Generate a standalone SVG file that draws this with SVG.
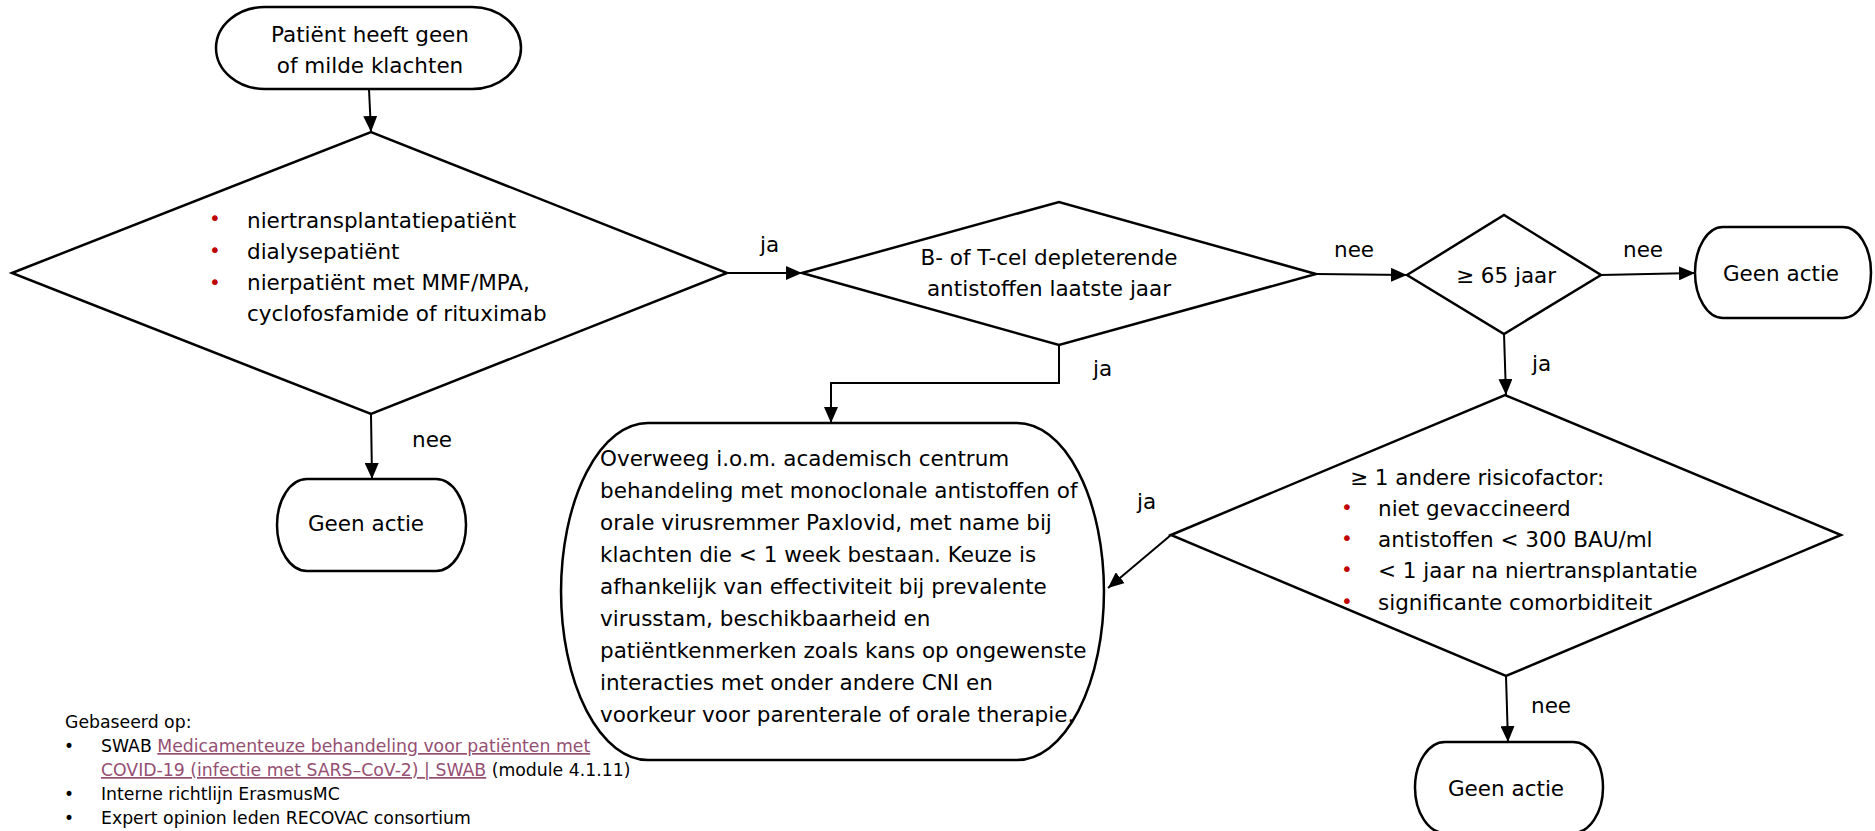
<svg xmlns="http://www.w3.org/2000/svg" width="1875" height="831" viewBox="0 0 1875 831">
<defs>
<marker id="ah" markerUnits="userSpaceOnUse" markerWidth="16" markerHeight="14" refX="16" refY="7" orient="auto">
<path d="M0,0 L16,7 L0,14 z" fill="#000"/>
</marker>
<style>
.shape{fill:#fff;stroke:#000;stroke-width:2.5;stroke-linejoin:miter}
.conn{fill:none;stroke:#000;stroke-width:2;marker-end:url(#ah)}
text{font-family:"DejaVu Sans","Liberation Sans",sans-serif;fill:#000}
.t{font-size:21.5px}
.c{text-anchor:middle}
.b{font-size:20px;fill:#C00000}
.f{font-size:17.3px}
.fb{font-size:17px}
.lnk{fill:#954F72;text-decoration:underline}
</style>
</defs>
<rect x="0" y="0" width="1875" height="831" fill="#fff"/>

<g id="connectors">
<path class="conn" d="M369,89 L371,132"/>
<path class="conn" d="M727,273 L802,273"/>
<path class="conn" d="M1059,345 L1059,383 L831,383 L831,423"/>
<path class="conn" d="M1316,274 L1407,275"/>
<path class="conn" d="M1601,275 L1695,273"/>
<path class="conn" d="M1504,334 L1506,395"/>
<path class="conn" d="M1171,535 L1108,588"/>
<path class="conn" d="M1506,676 L1508,742"/>
<path class="conn" d="M371,414 L372,479"/>
<text class="t" x="760" y="252">ja</text>
<text class="t" x="1093" y="376">ja</text>
<text class="t" x="1334" y="257">nee</text>
<text class="t" x="1623" y="257">nee</text>
<text class="t" x="1532" y="371">ja</text>
<text class="t" x="1137" y="509">ja</text>
<text class="t" x="1531" y="713">nee</text>
<text class="t" x="412" y="447">nee</text>
</g>

<g id="start">
<path class="shape" d="M265,7 H472 A49 41 0 0 1 472,89 H265 A49 41 0 0 1 265,7 Z"/>
<text class="t c" x="370" y="42">Patiënt heeft geen</text>
<text class="t c" x="370" y="73">of milde klachten</text>
</g>

<g id="d1">
<path class="shape" d="M12,273 L371,132 L727,273 L371,414 Z"/>
<text class="b" x="209" y="225">•</text>
<text class="b" x="209" y="257">•</text>
<text class="b" x="209" y="289">•</text>
<text class="t" x="247" y="228">niertransplantatiepatiënt</text>
<text class="t" x="247" y="259">dialysepatiënt</text>
<text class="t" x="247" y="290">nierpatiënt met MMF/MPA,</text>
<text class="t" x="247" y="321">cyclofosfamide of rituximab</text>
</g>

<g id="geen1">
<path class="shape" d="M307,479 H436 A30 46 0 0 1 436,571 H307 A30 46 0 0 1 307,479 Z"/>
<text class="t c" x="366" y="531">Geen actie</text>
</g>

<g id="d2">
<path class="shape" d="M802,273 L1059,202 L1316,274 L1059,345 Z"/>
<text class="t c" x="1049" y="265">B- of T-cel depleterende</text>
<text class="t c" x="1049" y="296">antistoffen laatste jaar</text>
</g>

<g id="d3">
<path class="shape" d="M1407,275 L1504,215 L1601,275 L1504,334 Z"/>
<text class="t c" x="1506" y="283">≥ 65 jaar</text>
</g>

<g id="geen2">
<path class="shape" d="M1723,227 H1843 A28 45.5 0 0 1 1843,318 H1723 A28 45.5 0 0 1 1723,227 Z"/>
<text class="t c" x="1781" y="281">Geen actie</text>
</g>

<g id="d4">
<path class="shape" d="M1171,535 L1505,395 L1841,535 L1506,676 Z"/>
<text class="t" x="1350" y="485">≥ 1 andere risicofactor:</text>
<text class="b" x="1341" y="514">•</text>
<text class="b" x="1341" y="545">•</text>
<text class="b" x="1341" y="576">•</text>
<text class="b" x="1341" y="608">•</text>
<text class="t" x="1378" y="516">niet gevaccineerd</text>
<text class="t" x="1378" y="547">antistoffen &lt; 300 BAU/ml</text>
<text class="t" x="1378" y="578">&lt; 1 jaar na niertransplantatie</text>
<text class="t" x="1378" y="610">significante comorbiditeit</text>
</g>

<g id="advies">
<path class="shape" d="M648,423 H1017 A87 168.5 0 0 1 1017,760 H648 A87 168.5 0 0 1 648,423 Z"/>
<text class="t" x="600" y="466">Overweeg i.o.m. academisch centrum</text>
<text class="t" x="600" y="498">behandeling met monoclonale antistoffen of</text>
<text class="t" x="600" y="530">orale virusremmer Paxlovid, met name bij</text>
<text class="t" x="600" y="562">klachten die &lt; 1 week bestaan. Keuze is</text>
<text class="t" x="600" y="594">afhankelijk van effectiviteit bij prevalente</text>
<text class="t" x="600" y="626">virusstam, beschikbaarheid en</text>
<text class="t" x="600" y="658">patiëntkenmerken zoals kans op ongewenste</text>
<text class="t" x="600" y="690">interacties met onder andere CNI en</text>
<text class="t" x="600" y="722">voorkeur voor parenterale of orale therapie.</text>
</g>

<g id="geen3">
<path class="shape" d="M1445,742 H1573 A30 45.5 0 0 1 1573,833 H1445 A30 45.5 0 0 1 1445,742 Z"/>
<text class="t c" x="1506" y="796">Geen actie</text>
</g>

<g id="bronnen">
<text class="f" x="65" y="728">Gebaseerd op:</text>
<text class="fb" x="64" y="752">•</text>
<text class="fb" x="64" y="800">•</text>
<text class="fb" x="64" y="824">•</text>
<text class="f" x="101" y="752">SWAB <tspan class="lnk">Medicamenteuze behandeling voor patiënten met</tspan></text>
<text class="f" x="101" y="776"><tspan class="lnk">COVID-19 (infectie met SARS–CoV-2) | SWAB</tspan> (module 4.1.11)</text>
<text class="f" x="101" y="800">Interne richtlijn ErasmusMC</text>
<text class="f" x="101" y="824">Expert opinion leden RECOVAC consortium</text>
</g>
</svg>
